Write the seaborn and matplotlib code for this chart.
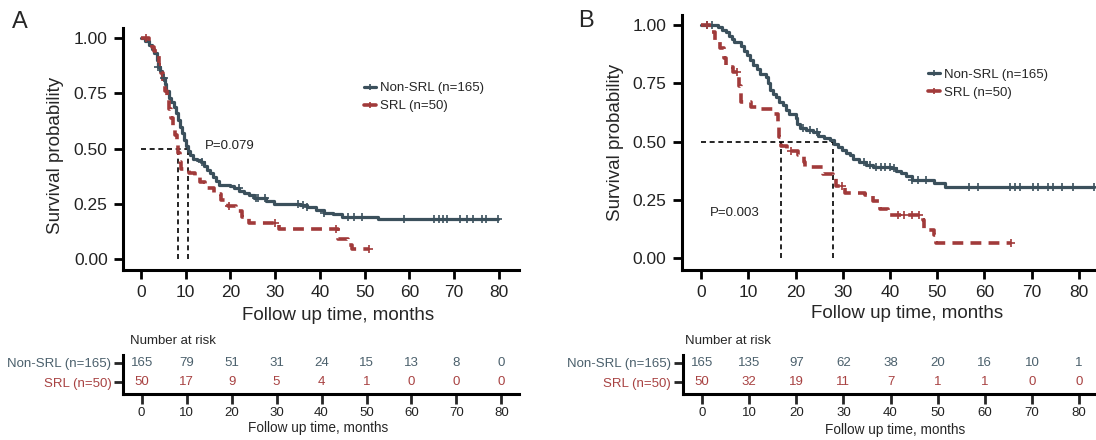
import numpy as np
import pandas as pd
import seaborn as sns
import matplotlib.pyplot as plt
from matplotlib.lines import Line2D

# ---- data ----
groups = ['Non-SRL (n=165)', 'SRL (n=50)']

# panel A, Non-SRL step curve (time, survival)
a_non_t = [0, 1.0, 1.8, 2.4, 3.0, 3.5, 3.9, 4.3, 4.8, 5.3, 5.7, 6.2, 6.8, 7.3, 7.8, 8.3, 8.7,
           9.2, 9.6, 10.1, 10.5, 11.0, 11.6, 12.5, 13.3, 14.1, 14.8, 15.5, 16.2, 16.8, 17.5,
           20.0, 20.8, 22.0, 23.0, 24.2, 25.2, 28.0, 29.8, 35.5, 37.0, 39.0, 40.8, 43.0,
           45.0, 53.0, 79.8]
a_non_s = [1.0, 0.985, 0.97, 0.95, 0.93, 0.90, 0.87, 0.85, 0.82, 0.79, 0.76, 0.73, 0.71, 0.69,
           0.66, 0.63, 0.60, 0.57, 0.54, 0.51, 0.49, 0.47, 0.455, 0.45, 0.44, 0.42, 0.405, 0.39,
           0.37, 0.355, 0.335, 0.33, 0.32, 0.31, 0.30, 0.29, 0.275, 0.265, 0.25, 0.245, 0.235,
           0.225, 0.21, 0.205, 0.19, 0.18, 0.18]
a_non_cens = [3.9, 5.1, 13.6, 21.8, 25.7, 26.1, 27.6, 35.0, 36.2, 37.0, 40.9, 46.3, 47.5, 49.4,
              58.8, 65.4, 66.7, 67.5, 68.3, 71.2, 72.8, 74.2, 76.3, 77.0, 79.8]

# panel A, SRL
a_srl_t = [0, 1.8, 2.5, 3.0, 3.5, 4.0, 4.5, 5.0, 5.4, 5.8, 6.3, 6.8, 7.2, 7.6, 8.0, 8.3, 8.7,
           9.0, 10.8, 12.0, 13.2, 14.4, 16.3, 17.8, 19.4, 21.3, 22.6, 24.1, 30.8, 44.0, 46.3,
           47.2, 51.0]
a_srl_s = [1.0, 0.98, 0.96, 0.94, 0.92, 0.88, 0.84, 0.80, 0.76, 0.72, 0.68, 0.64, 0.60, 0.56,
           0.52, 0.48, 0.44, 0.41, 0.39, 0.37, 0.35, 0.32, 0.295, 0.27, 0.24, 0.22, 0.19, 0.165,
           0.135, 0.09, 0.065, 0.045, 0.045]
a_srl_cens = [1.2, 19.6, 30.0, 43.6, 51.0]

# panel B, Non-SRL
b_non_t = [0, 3.5, 4.5, 5.3, 6.0, 6.6, 7.0, 8.5, 9.2, 9.8, 10.3, 11.0, 11.8, 12.5, 13.8, 14.2,
           14.6, 15.2, 15.9, 16.6, 17.3, 18.0, 18.6, 20.0, 20.3, 21.0, 22.3, 23.6, 24.8, 26.0,
           27.2, 28.2, 29.0, 29.8, 30.6, 31.5, 32.2, 33.4, 35.0, 36.4, 40.2, 41.2, 42.3, 43.3,
           44.6, 49.4, 51.7, 83.1]
b_non_s = [1.0, 0.99, 0.98, 0.97, 0.955, 0.94, 0.925, 0.91, 0.89, 0.87, 0.85, 0.83, 0.81, 0.79,
           0.775, 0.75, 0.72, 0.705, 0.69, 0.67, 0.655, 0.635, 0.62, 0.60, 0.575, 0.56, 0.55,
           0.54, 0.525, 0.515, 0.505, 0.49, 0.475, 0.465, 0.45, 0.44, 0.425, 0.41, 0.40, 0.39,
           0.385, 0.375, 0.365, 0.35, 0.335, 0.32, 0.305, 0.305]
b_non_cens = [1.3, 2.4, 21.5, 23.0, 24.6, 34.6, 35.8, 37.0, 38.0, 39.0, 40.0, 40.9, 44.6, 46.0,
              47.6, 56.8, 58.7, 65.4, 66.5, 67.6, 70.2, 71.3, 73.5, 74.6, 76.5, 78.7, 83.1]

# panel B, SRL
b_srl_t = [0, 1.8, 3.0, 4.0, 4.8, 5.2, 6.8, 8.0, 8.5, 10.5, 12.3, 15.5, 16.2, 16.6, 17.0, 18.2,
           20.5, 21.7, 22.1, 25.8, 28.0, 28.5, 30.5, 34.8, 36.5, 37.8, 39.5, 46.9, 47.3, 49.4,
           49.8, 65.7]
b_srl_s = [1.0, 0.97, 0.93, 0.90, 0.86, 0.82, 0.80, 0.74, 0.67, 0.65, 0.64, 0.62, 0.58, 0.52,
           0.48, 0.46, 0.44, 0.41, 0.39, 0.36, 0.345, 0.31, 0.28, 0.27, 0.245, 0.21, 0.185,
           0.165, 0.12, 0.10, 0.065, 0.065]
b_srl_cens = [1.3, 7.6, 19.1, 29.8, 41.7, 43.0, 44.6, 46.1, 65.7]

a_medians = [8.2, 10.5]
b_medians = [17.0, 28.0]
a_pval = 'P=0.079'
b_pval = 'P=0.003'

risk_times = [0, 10, 20, 30, 40, 50, 60, 70, 80]
a_risk_non = [165, 79, 51, 31, 24, 15, 13, 8, 0]
a_risk_srl = [50, 17, 9, 5, 4, 1, 0, 0, 0]
b_risk_non = [165, 135, 97, 62, 38, 20, 16, 10, 1]
b_risk_srl = [50, 32, 19, 11, 7, 1, 1, 0, 0]

NON = '#3b505c'
SRL = '#a13a3a'
NON_TXT = '#4b606c'
SRL_TXT = '#a84242'

sns.set_theme(style='ticks')
plt.rcParams['font.family'] = ['Liberation Sans', 'DejaVu Sans']

W, H = 1096, 440
fig = plt.figure(figsize=(W / 100, H / 100), dpi=100)


def box(l, t, r, b):
    return [l / W, 1 - b / H, (r - l) / W, (b - t) / H]


def step_at(tk, sk, tc):
    idx = np.searchsorted(tk, tc, side='right') - 1
    return np.asarray(sk)[idx]


def km_panel(ax, non_t, non_s, non_c, srl_t, srl_s, srl_c, medians, xlim, ylim):
    ax.plot([0, medians[1]], [0.5, 0.5], color='black', lw=1.2, ls=(0, (3, 2.2)))
    for m in medians:
        ax.plot([m, m], [0, 0.5], color='black', lw=1.2, ls=(0, (3, 2.2)))
    sns.lineplot(x=non_t, y=non_s, drawstyle='steps-post', color=NON, lw=2.3,
                 estimator=None, sort=False, ax=ax, legend=False)
    sns.lineplot(x=srl_t, y=srl_s, drawstyle='steps-post', color=SRL, lw=2.6,
                 ls=(0, (3, 2)), estimator=None, sort=False, ax=ax, legend=False)
    sns.scatterplot(x=non_c, y=step_at(non_t, non_s, non_c), marker='+', s=26,
                    color=NON, linewidth=1.2, ax=ax, legend=False, zorder=3)
    sns.scatterplot(x=srl_c, y=step_at(srl_t, srl_s, srl_c), marker='+', s=26,
                    color=SRL, linewidth=1.2, ax=ax, legend=False, zorder=3)
    ax.set_xlim(*xlim)
    ax.set_ylim(*ylim)
    ax.set_xticks(risk_times)
    ax.set_yticks([0, 0.25, 0.5, 0.75, 1.0])
    ax.set_yticklabels(['0.00', '0.25', '0.50', '0.75', '1.00'])
    sns.despine(ax=ax)
    for s in ['left', 'bottom']:
        ax.spines[s].set_linewidth(2.2)
        ax.spines[s].set_color('black')
    ax.tick_params(length=6.5, width=2, labelsize=12.5, pad=4.5, colors='black',
                   labelcolor='#222222')
    ax.set_xlabel('')
    ax.set_ylabel('')


def risk_table(ax, non, srl, xlim, ylim):
    for i, t in enumerate(risk_times):
        ax.text(t, 2, str(non[i]), ha='center', va='center', fontsize=9.5, color=NON_TXT)
        ax.text(t, 1, str(srl[i]), ha='center', va='center', fontsize=9.5, color=SRL_TXT)
    ax.set_xlim(*xlim)
    ax.set_ylim(*ylim)
    ax.set_xticks(risk_times)
    ax.set_yticks([2, 1])
    ax.set_yticklabels(groups)
    for lab, c in zip(ax.get_yticklabels(), [NON_TXT, SRL_TXT]):
        lab.set_color(c)
    sns.despine(ax=ax)
    for s in ['left', 'bottom']:
        ax.spines[s].set_linewidth(2.2)
        ax.spines[s].set_color('black')
    ax.tick_params(axis='x', length=7.5, width=2, labelsize=9.5, pad=2, labelcolor='#222222')
    ax.tick_params(axis='y', length=6.5, width=2, labelsize=9.5, pad=2)


def fig_text(x, y, s, **kw):
    fig.text(x / W, 1 - y / H, s, **kw)


# ---- panel A ----
axA = fig.add_axes(box(123, 28, 519, 270))
km_panel(axA, a_non_t, a_non_s, a_non_cens, a_srl_t, a_srl_s, a_srl_cens, a_medians,
         (-4.02, 84.47), (-0.0484, 1.0452))
axA.text(14.2, 0.51, a_pval, fontsize=9.5, color='#222222', va='center')
tabA = fig.add_axes(box(123.3, 355, 519, 393.5))
risk_table(tabA, a_risk_non, a_risk_srl, (-4.07, 83.9), (0.43, 2.39))

# ---- panel B ----
axB = fig.add_axes(box(681.5, 15, 1096, 270))
km_panel(axB, b_non_t, b_non_s, b_non_cens, b_srl_t, b_srl_s, b_srl_cens, b_medians,
         (-4.13, 83.6), (-0.0515, 1.043))
axB.text(1.8, 0.193, b_pval, fontsize=9.5, color='#222222', va='center')
tabB = fig.add_axes(box(682.6, 355, 1096, 394))
risk_table(tabB, b_risk_non, b_risk_srl, (-4.13, 83.6), (0.40, 2.39))

# legends
for lx, ly in [(364, 82), (928, 68.5)]:
    handles = [Line2D([], [], color=NON, lw=2.3, marker='+', ms=5, mew=1.2),
               Line2D([], [], color=SRL, lw=2.6, marker='+', ms=5, mew=1.2)]
    fig.legend(handles, groups, loc='upper left', bbox_to_anchor=(lx / W, 1 - ly / H),
               frameon=False, fontsize=9.5, handlelength=0.9, handletextpad=0.3,
               labelspacing=0.45, borderpad=0, borderaxespad=0)

# axis labels, titles
fig_text(56, 155, 'Survival probability', rotation=90, ha='center', va='center', fontsize=13.5)
fig_text(615, 142, 'Survival probability', rotation=90, ha='center', va='center', fontsize=13.5)
fig_text(338, 315, 'Follow up time, months', ha='center', va='center', fontsize=13.5)
fig_text(907, 313, 'Follow up time, months', ha='center', va='center', fontsize=13.5)
fig_text(130, 341, 'Number at risk', ha='left', va='center', fontsize=9.5)
fig_text(685, 341, 'Number at risk', ha='left', va='center', fontsize=9.5)
fig_text(318, 428, 'Follow up time, months', ha='center', va='center', fontsize=9.8)
fig_text(895, 430, 'Follow up time, months', ha='center', va='center', fontsize=9.8)
fig_text(12, 22, 'A', ha='left', va='center', fontsize=17)
fig_text(578, 21, 'B', ha='left', va='center', fontsize=17)

fig.savefig('out.png', dpi=100, facecolor='white')
